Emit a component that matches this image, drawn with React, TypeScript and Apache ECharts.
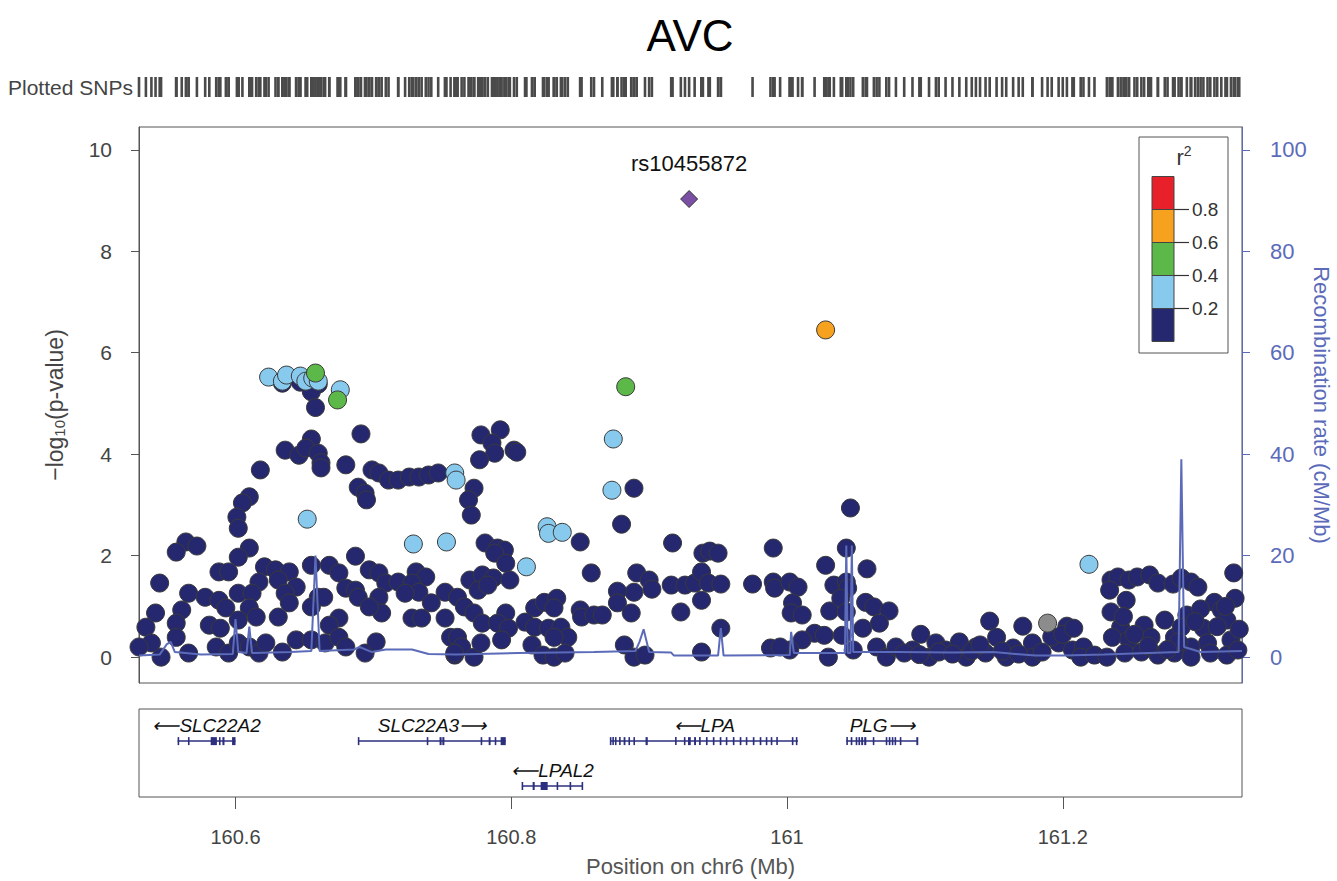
import React, { useEffect, useRef } from "react";
import * as echarts from "echarts";

const FONT = '"Liberation Sans", Arial, Helvetica, sans-serif';

const xMin = 160.53;
const xMax = 161.33;
const xTicks = [160.6, 160.8, 161, 161.2];
const pTicks = [0, 2, 4, 6, 8, 10];
const recTicks = [0, 20, 40, 60, 80, 100];

// r2 < 0.2
const navy: [number, number][] = [
  [160.634, 5.40], [160.647, 5.42], [160.660, 5.38],
  [160.655, 5.23], [160.658, 4.92], [160.691, 4.40], [160.655, 4.30],
  [160.636, 4.08], [160.646, 3.98], [160.651, 4.12], [160.660, 4.02], [160.662, 3.83], [160.662, 3.73], [160.680, 3.79],
  [160.618, 3.69],
  [160.699, 3.69], [160.704, 3.63], [160.711, 3.49], [160.718, 3.49], [160.726, 3.55], [160.733, 3.55], [160.740, 3.59], [160.747, 3.63],
  [160.689, 3.35], [160.694, 3.23], [160.695, 3.10],
  [160.610, 3.16], [160.605, 3.04], [160.601, 2.76], [160.602, 2.54],
  [160.564, 2.27], [160.557, 2.07], [160.572, 2.19],
  [160.610, 2.15], [160.602, 1.97], [160.687, 1.99], [160.545, 1.46],
  [160.588, 1.68], [160.595, 1.68], [160.621, 1.78], [160.629, 1.72], [160.639, 1.68], [160.655, 1.81], [160.668, 1.81], [160.675, 1.66], [160.697, 1.72], [160.704, 1.66], [160.731, 1.68], [160.738, 1.58],
  [160.617, 1.48], [160.631, 1.52], [160.644, 1.38], [160.680, 1.36], [160.687, 1.32], [160.709, 1.46], [160.718, 1.48], [160.728, 1.46], [160.733, 1.28],
  [160.566, 1.26], [160.578, 1.18], [160.588, 1.12], [160.602, 1.26], [160.612, 1.26], [160.636, 1.26], [160.660, 1.18], [160.689, 1.18], [160.704, 1.18], [160.723, 1.26], [160.752, 1.28], [160.742, 1.07],
  [160.561, 0.93], [160.593, 0.97], [160.610, 0.97], [160.639, 1.07], [160.655, 0.99], [160.664, 1.18], [160.706, 0.87], [160.697, 0.99],
  [160.542, 0.87], [160.535, 0.59], [160.557, 0.67], [160.581, 0.63], [160.589, 0.57], [160.602, 0.73], [160.615, 0.79], [160.631, 0.79], [160.675, 0.77], [160.668, 0.63], [160.728, 0.77], [160.735, 0.77], [160.752, 0.77], [160.756, 0.39],
  [160.546, 0.00], [160.566, 0.08], [160.586, 0.20], [160.595, 0.08], [160.602, 0.28], [160.610, 0.20], [160.617, 0.08], [160.622, 0.28], [160.634, 0.10], [160.644, 0.34], [160.655, 0.34], [160.665, 0.28], [160.675, 0.39], [160.680, 0.20], [160.694, 0.08], [160.702, 0.30], [160.759, 0.04],
  [160.539, 0.28], [160.530, 0.20], [160.557, 0.39],
  [160.778, 4.38], [160.792, 4.48], [160.786, 4.22], [160.788, 4.02], [160.802, 4.08], [160.804, 4.04], [160.777, 3.89],
  [160.773, 3.33], [160.769, 3.10], [160.771, 2.80],
  [160.781, 2.25], [160.790, 2.15], [160.795, 2.11], [160.788, 2.05], [160.796, 1.85],
  [160.850, 2.27], [160.858, 1.66], [160.889, 3.33], [160.880, 2.62], [160.917, 2.25],
  [160.939, 2.05], [160.944, 2.09], [160.950, 2.05], [160.990, 2.15],
  [160.770, 1.52], [160.779, 1.62], [160.787, 1.56], [160.799, 1.52], [160.776, 1.32], [160.783, 1.42],
  [160.891, 1.66], [160.900, 1.52], [160.902, 1.34], [160.889, 1.28], [160.877, 1.30], [160.877, 1.07], [160.887, 0.87],
  [160.916, 1.42], [160.926, 1.42], [160.933, 1.46], [160.938, 1.68], [160.943, 1.46], [160.952, 1.44], [160.938, 1.12], [160.923, 0.89], [160.975, 1.44], [160.990, 1.48], [160.991, 1.36],
  [160.952, 0.57], [160.938, 0.10], [160.882, 0.24], [160.889, 0.00], [160.897, 0.04], [160.988, 0.18],
  [160.761, 1.18], [160.766, 0.99], [160.773, 0.87], [160.779, 0.67], [160.796, 0.87], [160.790, 0.67], [160.798, 0.57], [160.793, 0.34], [160.817, 0.97], [160.824, 1.08], [160.833, 1.16], [160.831, 0.97], [160.810, 0.69], [160.817, 0.59], [160.827, 0.57], [160.836, 0.59], [160.841, 0.39], [160.831, 0.39], [160.815, 0.24], [160.823, 0.04], [160.831, 0.00], [160.839, 0.08], [160.761, 0.39], [160.764, 0.20], [160.773, 0.00], [160.778, 0.28], [160.759, 0.08],
  [160.850, 0.93], [160.851, 0.79], [160.860, 0.83], [160.866, 0.83],
  [161.046, 2.94], [161.043, 2.15], [161.028, 1.81], [161.058, 1.74],
  [161.002, 1.48], [161.008, 1.38], [161.034, 1.42], [161.043, 1.48], [161.044, 1.36],
  [161.004, 1.07], [161.003, 0.87], [161.011, 0.83], [161.031, 0.91], [161.039, 1.16], [161.043, 0.89], [161.057, 1.08], [161.063, 0.99], [161.074, 0.91],
  [161.147, 0.71], [161.171, 0.61], [161.203, 0.61],
  [161.040, 0.43], [161.055, 0.57], [161.067, 0.67], [161.097, 0.45], [161.020, 0.47], [161.011, 0.34], [161.027, 0.43], [161.002, 0.14], [161.030, 0.00], [161.048, 0.14], [161.065, 0.20], [161.072, 0.00], [161.079, 0.20], [161.091, 0.14], [161.108, 0.28], [161.115, 0.14], [161.125, 0.30], [161.137, 0.20], [161.152, 0.39], [161.164, 0.18], [161.178, 0.28], [161.197, 0.28], [161.207, 0.14], [161.144, 0.08], [161.103, 0.00], [161.130, 0.00], [161.159, 0.00], [161.178, 0.00], [160.995, 0.20],
  [161.085, 0.08], [161.096, 0.05], [161.110, 0.10], [161.120, 0.06], [161.134, 0.12], [161.140, 0.24], [161.156, 0.12], [161.168, 0.06], [161.185, 0.10], [161.192, 0.40], [161.200, 0.45], [161.215, 0.20],
  [161.235, 1.52], [161.240, 1.58], [161.248, 1.52], [161.254, 1.58], [161.263, 1.62], [161.269, 1.46], [161.280, 1.44], [161.286, 1.56], [161.293, 1.48], [161.298, 1.38], [161.324, 1.66],
  [161.234, 1.32], [161.246, 1.12], [161.235, 0.89], [161.208, 0.57],
  [161.310, 1.08], [161.315, 0.93], [161.325, 1.16],
  [161.290, 0.83], [161.274, 0.73], [161.259, 0.63], [161.242, 0.59], [161.236, 0.39], [161.248, 0.34], [161.264, 0.39], [161.281, 0.39], [161.286, 0.59], [161.302, 0.57], [161.319, 0.73], [161.322, 0.34], [161.305, 0.28], [161.293, 0.20],
  [161.213, 0.00], [161.223, 0.04], [161.232, 0.00], [161.245, 0.08], [161.257, 0.10], [161.269, 0.04], [161.281, 0.08], [161.293, 0.00], [161.307, 0.08], [161.319, 0.04], [161.327, 0.14],
  [161.300, 0.95], [161.312, 0.60], [161.318, 1.00], [161.328, 0.55], [161.296, 0.70], [161.284, 0.30], [161.276, 0.15], [161.262, 0.22], [161.252, 0.45], [161.244, 0.80],
];

// 0.2 <= r2 < 0.4
const lightBlue: [number, number][] = [
  [160.624, 5.52], [160.634, 5.44], [160.637, 5.56], [160.647, 5.54], [160.651, 5.44], [160.656, 5.50], [160.660, 5.44],
  [160.676, 5.27], [160.652, 2.72], [160.729, 2.23], [160.753, 2.27],
  [160.759, 3.63], [160.760, 3.49],
  [160.826, 2.57], [160.827, 2.44], [160.837, 2.46], [160.811, 1.78],
  [160.874, 4.30], [160.873, 3.29], [161.219, 1.83],
];

// 0.4 <= r2 < 0.6
const green: [number, number][] = [[160.658, 5.60], [160.674, 5.07], [160.883, 5.33]];
// 0.6 <= r2 < 0.8
const orange: [number, number][] = [[161.028, 6.45]];
// r2 not available
const grayNA: [number, number][] = [[161.189, 0.67]];
// index SNP
const lead: [number, number][] = [[160.929, 9.03]];
const leadName = "rs10455872";

// recombination rate (cM/Mb)
const recomb: [number, number][] = [
  [160.530, 0.3], [160.545, 0.5], [160.550, 2.5], [160.553, 3.0], [160.556, 1.0], [160.575, 0.5], [160.598, 0.6], [160.600, 7.5], [160.602, 1.0],
  [160.608, 0.8], [160.610, 6.0], [160.612, 0.8], [160.640, 1.0], [160.655, 1.2], [160.658, 20], [160.661, 1.2], [160.686, 1.5], [160.690, 2.0],
  [160.699, 1.0], [160.709, 1.5], [160.728, 1.5], [160.740, 0.6], [160.760, 0.5], [160.805, 0.8], [160.860, 1.0], [160.890, 1.2], [160.893, 3.0],
  [160.896, 5.5], [160.900, 1.0], [160.916, 0.9], [160.918, 0.3], [160.950, 0.3], [160.952, 5.7], [160.954, 0.3], [161.002, 0.4], [161.003, 5.0],
  [161.005, 0.8], [161.042, 0.8], [161.043, 22], [161.044, 0.8], [161.046, 0.8], [161.047, 22], [161.048, 1.0], [161.080, 1.0], [161.120, 0.9],
  [161.150, 1.0], [161.180, 0.3], [161.200, 0.3], [161.230, 0.5], [161.284, 1.0], [161.286, 39], [161.288, 2.0], [161.300, 1.0], [161.330, 1.2],
];

const geneNames = ["SLC22A2", "SLC22A3", "LPAL2", "LPA", "PLG"];
const geneStart = [160.558, 160.689, 160.808, 160.872, 161.043];
const geneEnd = [160.600, 160.796, 160.852, 161.008, 161.095];
const geneStrand = ["-", "+", "-", "-", "+"];
const geneRow = [0, 0, 1, 0, 0];
const geneExons: [number, number][][] = [
  [[160.558, 160.559], [160.5655, 160.5665], [160.582, 160.5865], [160.588, 160.589], [160.5905, 160.592], [160.5975, 160.600]],
  [[160.6887, 160.6897], [160.7387, 160.7395], [160.748, 160.7495], [160.750, 160.7515], [160.7778, 160.7786], [160.7836, 160.785], [160.788, 160.789], [160.7923, 160.796]],
  [[160.8075, 160.8085], [160.8155, 160.817], [160.8213, 160.8264], [160.8329, 160.8337], [160.8423, 160.843], [160.851, 160.852]],
  [[160.8715, 160.8725], [160.8733, 160.8743], [160.8752, 160.8762], [160.8782, 160.8792], [160.8815, 160.8828], [160.885, 160.886], [160.8886, 160.8896],
   [160.8974, 160.899], [160.9188, 160.9196], [160.9252, 160.9262], [160.9282, 160.9302], [160.9326, 160.934], [160.9362, 160.9374], [160.9412, 160.9424],
   [160.9462, 160.9474], [160.9512, 160.9524], [160.9556, 160.9566], [160.9607, 160.9619], [160.9657, 160.9669], [160.9701, 160.9711], [160.9752, 160.9764],
   [160.9802, 160.9814], [160.9846, 160.9856], [160.9882, 160.9892], [160.9922, 160.9928], [161.0035, 161.0045], [161.0064, 161.0074]],
  [[161.043, 161.044], [161.0462, 161.0474], [161.0498, 161.051], [161.0518, 161.053], [161.0538, 161.0552], [161.056, 161.0575], [161.0622, 161.063],
   [161.0716, 161.0726], [161.0738, 161.075], [161.076, 161.077], [161.078, 161.079], [161.0818, 161.0828], [161.0938, 161.0952]],
];

const legendLabels = ["0.8", "0.6", "0.4", "0.2"];

const C_NAVY = "#25286e";
const C_LBLUE = "#88caee";
const C_GREEN = "#5cb848";
const C_ORANGE = "#f6a21e";
const C_RED = "#e8202a";
const C_GRAY = "#8c8c8c";
const C_PURPLE = "#7b4fa4";
const C_REC = "#5b6bb9";
const C_GENE = "#2b2f7e";

function scatter(name: string, data: [number, number][], color: string) {
  return {
    name,
    type: "scatter",
    xAxisIndex: 0,
    yAxisIndex: 0,
    data,
    symbol: "circle",
    symbolSize: 18,
    itemStyle: { color, borderColor: "#3a3a3a", borderWidth: 1, opacity: 1 },
    silent: true,
  };
}

export default function App() {
  const ref = useRef<HTMLDivElement>(null);
  useEffect(() => {
    if (!ref.current) return;
    const chart = echarts.init(ref.current, undefined, { renderer: "svg" });
    const allSnps = [...navy, ...lightBlue, ...green, ...orange, ...grayNA, ...lead];
    const rowVal = [1.27, 0.25];
    const geneData = geneNames.map((_, i) => [geneStart[i], geneEnd[i], rowVal[geneRow[i]], i]);

    const legendX = 1152;
    const legendTop = 176.5;
    const segH = 33;
    const segColors = [C_RED, C_ORANGE, C_GREEN, C_LBLUE, C_NAVY];
    const legendChildren: any[] = [
      { type: "rect", shape: { x: 1139, y: 137, width: 89, height: 216 }, style: { fill: "#fff", stroke: "#555", lineWidth: 1 } },
      {
        type: "text", x: 1184, y: 157,
        style: {
          text: "{a|r}{b|2}", textAlign: "center", textVerticalAlign: "middle",
          rich: { a: { fontSize: 22, fontFamily: FONT, fill: "#333", color: "#333" }, b: { fontSize: 14, fontFamily: FONT, color: "#333", fill: "#333", padding: [0, 0, 12, 0] } },
        },
      },
    ];
    segColors.forEach((c, k) => {
      legendChildren.push({ type: "rect", shape: { x: legendX, y: legendTop + k * segH, width: 22, height: segH }, style: { fill: c, stroke: "#444", lineWidth: 1 } });
    });
    legendLabels.forEach((l, k) => {
      const y = legendTop + (k + 1) * segH;
      legendChildren.push({ type: "line", shape: { x1: legendX + 22, y1: y, x2: 1189, y2: y }, style: { stroke: "#333", lineWidth: 1.2 } });
      legendChildren.push({ type: "text", x: 1192, y, style: { text: l, font: `19px ${FONT}`, fill: "#333", textAlign: "left", textVerticalAlign: "middle" } });
    });

    const option: any = {
      animation: false,
      backgroundColor: "#fff",
      textStyle: { fontFamily: FONT },
      grid: [
        { left: 139, top: 127, width: 1103, height: 556, show: true, borderColor: "#555", borderWidth: 1, backgroundColor: "transparent", containLabel: false, outerBoundsMode: "none" },
        { left: 139, top: 77, width: 1103, height: 20, show: false, containLabel: false, outerBoundsMode: "none" },
        { left: 139, top: 709, width: 1103, height: 88, show: true, borderColor: "#555", borderWidth: 1, backgroundColor: "transparent", containLabel: false, outerBoundsMode: "none" },
      ],
      xAxis: [
        { type: "value", gridIndex: 0, min: xMin, max: xMax, axisLine: { show: false }, axisTick: { show: false }, axisLabel: { show: false }, splitLine: { show: false } },
        { type: "value", gridIndex: 1, min: xMin, max: xMax, show: false },
        {
          type: "value", gridIndex: 2, min: xMin, max: xMax, position: "bottom",
          axisLine: { show: false },
          axisTick: { show: true, length: 12, lineStyle: { color: "#555" }, customValues: xTicks },
          axisLabel: { customValues: xTicks, fontSize: 20, color: "#444", margin: 30, formatter: (v: number) => String(v) },
          splitLine: { show: false },
          name: "Position on chr6 (Mb)", nameLocation: "middle", nameGap: 58, nameMoveOverlap: false,
          nameTextStyle: { fontSize: 22, color: "#555" },
        },
      ],
      yAxis: [
        {
          type: "value", gridIndex: 0, min: -0.51, max: 10.45,
          axisLine: { show: true, lineStyle: { color: "#555" } },
          axisTick: { show: true, length: 8, lineStyle: { color: "#555" }, customValues: pTicks },
          axisLabel: { customValues: pTicks, fontSize: 21, color: "#444", margin: 27 },
          splitLine: { show: false },
          name: "{a|\u2212log}{b|10}{a|(p-value)}", nameLocation: "middle", nameGap: 72, nameMoveOverlap: false,
          nameTextStyle: {
            fontSize: 23, color: "#444",
            rich: { a: { fontSize: 23, color: "#444", fontFamily: FONT }, b: { fontSize: 15, color: "#444", fontFamily: FONT, padding: [10, 0, 0, 0] } },
          },
        },
        {
          type: "value", gridIndex: 0, position: "right", min: -5.1, max: 104.5,
          axisLine: { show: true, lineStyle: { color: C_REC } },
          axisTick: { show: true, length: 8, lineStyle: { color: C_REC }, customValues: recTicks },
          axisLabel: { customValues: recTicks, fontSize: 22, color: C_REC, margin: 28 },
          splitLine: { show: false },
          name: "Recombination rate (cM/Mb)", nameLocation: "middle", nameGap: 68, nameRotate: -90, nameMoveOverlap: false,
          nameTextStyle: { fontSize: 22, color: C_REC },
        },
        { type: "value", gridIndex: 1, min: 0, max: 1, show: false },
        { type: "value", gridIndex: 2, min: 0, max: 2, show: false },
      ],
      series: [
        {
          name: "rug", type: "scatter", xAxisIndex: 1, yAxisIndex: 2,
          data: allSnps.map((p) => [p[0], 0.5]),
          symbol: "rect", symbolSize: [2.6, 20],
          itemStyle: { color: "#4a4a4a", opacity: 1 }, silent: true,
        },
        {
          name: "recomb", type: "line", xAxisIndex: 0, yAxisIndex: 1, data: recomb,
          showSymbol: false, symbol: "none", lineStyle: { color: C_REC, width: 2 }, silent: true,
        },
        scatter("navy", navy, C_NAVY),
        scatter("na", grayNA, C_GRAY),
        scatter("lightblue", lightBlue, C_LBLUE),
        scatter("green", green, C_GREEN),
        scatter("orange", orange, C_ORANGE),
        {
          name: "lead", type: "scatter", xAxisIndex: 0, yAxisIndex: 0, data: lead,
          symbol: "diamond", symbolSize: 17,
          itemStyle: { color: C_PURPLE, borderColor: "#333", borderWidth: 1, opacity: 1 },
          label: { show: true, position: "top", distance: 16, formatter: leadName, fontSize: 22, color: "#111", fontFamily: FONT },
          silent: true,
        },
        {
          name: "genes", type: "custom", xAxisIndex: 2, yAxisIndex: 3, data: geneData,
          encode: { x: [0, 1], y: 2 }, silent: true,
          renderItem: (params: any, api: any) => {
            const i = api.value(3);
            const rv = api.value(2);
            const s = api.coord([api.value(0), rv]);
            const e = api.coord([api.value(1), rv]);
            const children: any[] = [
              { type: "line", shape: { x1: s[0], y1: s[1], x2: e[0], y2: e[1] }, style: { stroke: C_GENE, lineWidth: 1.5 } },
            ];
            geneExons[i].forEach((ex) => {
              const a = api.coord([ex[0], rv])[0];
              const b = api.coord([ex[1], rv])[0];
              children.push({ type: "rect", shape: { x: a, y: s[1] - 4, width: Math.max(b - a, 1.6), height: 8 }, style: { fill: C_GENE } });
            });
            const label = geneStrand[i] === "-" ? "\u27f5" + geneNames[i] : geneNames[i] + "\u27f6";
            children.push({
              type: "text",
              style: { text: label, x: (s[0] + e[0]) / 2, y: s[1] - 16, align: "center", verticalAlign: "middle", font: `italic 19px ${FONT}`, fill: "#111" },
            });
            return { type: "group", children };
          },
        },
      ],
      graphic: [
        { type: "text", x: 690, y: 35, z: 10, style: { text: "AVC", font: `44px ${FONT}`, fill: "#000", textAlign: "center", textVerticalAlign: "middle" } },
        { type: "text", x: 8, y: 87, z: 10, style: { text: "Plotted SNPs", font: `21px ${FONT}`, fill: "#444", textAlign: "left", textVerticalAlign: "middle" } },
        { type: "group", z: 10, children: legendChildren },
      ],
    };
    chart.setOption(option);
    return () => chart.dispose();
  }, []);
  return <div ref={ref} style={{ position: "fixed", left: 0, top: 0, width: 1337, height: 881 }} />;
}
